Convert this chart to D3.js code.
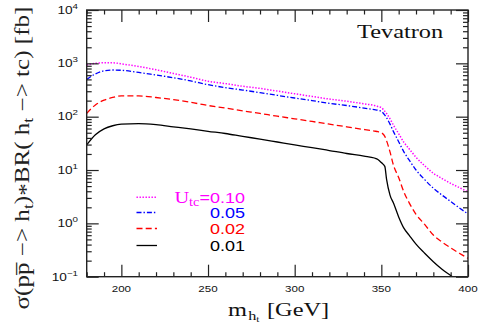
<!DOCTYPE html>
<html><head><meta charset="utf-8">
<script src="https://cdn.jsdelivr.net/npm/d3@7"></script>
<style>body{margin:0;background:#fff}svg{display:block}</style>
</head><body>
<svg id="c" width="480" height="327"></svg>
<script>
// ---- data ----
const massGeV = [180,185,190,195,200,210,220,230,240,250,260,270,280,290,300,310,320,330,340,346,348,350,352,353,355,357,360,363,366,370,375,380,385,390,395,400];
const sigmaU010 = [933,1000,1023,1023,977,871,759,646,550,462,417,372,339,302,269,240,214,195,174,162,155,148,126,115,91.2,69.2,47.9,33.1,25.1,17.4,12.0,8.71,6.92,5.62,4.68,3.89];
const sigmaU005 = [501,631,724,750,741,676,603,537,468,398,351,316,282,251,224,200,178,162,145,135,132,126,107,95.5,72.4,52.5,33.9,21.9,15.5,10.0,6.61,4.57,3.39,2.57,1.95,1.50];
const sigmaU002 = [115,166,204,229,245,245,229,209,186,162,145,129,115,102,91.2,81.3,72.4,64.6,57.5,53.7,52.5,50.1,42.7,35.5,21.9,12.3,7.24,3.89,2.45,1.48,0.955,0.603,0.447,0.347,0.275,0.221];
const sigmaU001 = [29.5,45.7,58.9,67.6,72.4,74.1,70.8,64.6,58.9,53.1,48.4,42.7,38.0,33.5,29.5,26.3,23.2,20.4,18.2,16.8,15.8,13.8,11.7,6.76,3.39,2.40,1.32,0.813,0.603,0.407,0.275,0.191,0.138,0.105,0.0794,0.0617];
const couplings = ["0.10","0.05","0.02","0.01"];
const xTickValues = [200,250,300,350,400];
const yDecades = [-1,0,1,2,3,4];

const seriesValues = [sigmaU010, sigmaU005, sigmaU002, sigmaU001];
const colors = ["#ff00ff","#0000ff","#ff0000","#000000"];
const dashes = ["1.4,1.6","5,2,1.4,2","6,3.2",null];

const svg = d3.select("#c");
const L=86.7, R=468, T=10, B=276.7;
const x = d3.scaleLinear().domain([180,400]).range([L,R]);
const y = d3.scaleLog().domain([0.1,1e4]).range([B,T]);

const SANS = "'Liberation Sans', Arial, sans-serif";
const SERIF = "'Liberation Serif', 'Times New Roman', serif";

svg.append("clipPath").attr("id","clip").append("rect")
  .attr("x",L).attr("y",T).attr("width",R-L).attr("height",B-T);

const line = d3.line().x(d=>x(d[0])).y(d=>y(d[1])).curve(d3.curveMonotoneX);
seriesValues.forEach((vals,i)=>{
  svg.append("path")
    .attr("clip-path","url(#clip)")
    .attr("d", line(massGeV.map((m,j)=>[m,vals[j]])))
    .attr("fill","none").attr("stroke",colors[i]).attr("stroke-width",i===0?1.5:1.3)
    .attr("stroke-dasharray",dashes[i]);
});

const axColor="#222";
const xMinor = d3.range(180,401,10).filter(v=>v%50!==0);
const yMinor = [];
for (let e=-1;e<4;e++) for (let k=2;k<10;k++) yMinor.push(k*Math.pow(10,e));
const yMajor = yDecades.map(e=>Math.pow(10,e));

function styleAxis(g){ g.select(".domain").remove(); g.selectAll("line").attr("stroke",axColor).attr("stroke-width",1.2); g.selectAll("text").remove(); }
svg.append("g").attr("transform",`translate(0,${B})`).call(d3.axisBottom(x).tickValues(xTickValues).tickSize(-12)).call(styleAxis);
svg.append("g").attr("transform",`translate(0,${B})`).call(d3.axisBottom(x).tickValues(xMinor).tickSize(-4.5)).call(styleAxis);
svg.append("g").attr("transform",`translate(0,${T})`).call(d3.axisTop(x).tickValues(xTickValues).tickSize(-12)).call(styleAxis);
svg.append("g").attr("transform",`translate(0,${T})`).call(d3.axisTop(x).tickValues(xMinor).tickSize(-4.5)).call(styleAxis);
svg.append("g").attr("transform",`translate(${L},0)`).call(d3.axisLeft(y).tickValues(yMajor).tickSize(-12)).call(styleAxis);
svg.append("g").attr("transform",`translate(${L},0)`).call(d3.axisLeft(y).tickValues(yMinor).tickSize(-5)).call(styleAxis);
svg.append("g").attr("transform",`translate(${R},0)`).call(d3.axisRight(y).tickValues(yMajor).tickSize(-12)).call(styleAxis);
svg.append("g").attr("transform",`translate(${R},0)`).call(d3.axisRight(y).tickValues(yMinor).tickSize(-5)).call(styleAxis);

svg.append("rect").attr("x",L).attr("y",T).attr("width",R-L).attr("height",B-T)
  .attr("fill","none").attr("stroke",axColor).attr("stroke-width",1.4);

xTickValues.forEach(v=>{
  svg.append("g").attr("transform",`translate(${x(v)},291.5) scale(1.22,1)`)
    .append("text").attr("text-anchor","middle").attr("font-family",SANS)
    .attr("font-size",9.5).attr("fill","#111").text(v);
});
yDecades.forEach(e=>{
  const t = svg.append("g").attr("transform",`translate(78,${y(Math.pow(10,e))+3.8}) scale(1.3,1)`)
    .append("text").attr("text-anchor","end").attr("font-family",SANS).attr("font-size",10.5).attr("fill","#111");
  t.append("tspan").text("10");
  t.append("tspan").attr("font-size",7.5).attr("dy",-5).text(e<0?"\u2212"+(-e):String(e));
});

svg.append("g").attr("transform","translate(357,38.3) scale(1.25,1)")
  .append("text").attr("font-family",SERIF).attr("font-size",19.5).attr("fill","#111").text("Tevatron");

{
  const t = svg.append("g").attr("transform","translate(228,315.5) scale(1.25,1)")
    .append("text").attr("font-family",SERIF).attr("font-size",19.5).attr("fill","#111");
  t.append("tspan").text("m");
  t.append("tspan").attr("font-size",13).attr("dy",4).attr("dx",1).text("h");
  t.append("tspan").attr("font-size",9).attr("dy",2.5).text("t");
  t.append("tspan").attr("dy",-6.5).attr("dx",6).text("[GeV]");
}

{
  const g = svg.append("g");
  const t = g.append("text").attr("font-family",SERIF).attr("font-size",17).attr("fill","#222").attr("text-anchor","middle");
  t.append("tspan").text("\u03C3(p");
  t.append("tspan").text("p\u0305");
  t.append("tspan").text(" \u2212> h");
  t.append("tspan").attr("font-size",12).attr("dy",3).text("t");
  t.append("tspan").attr("dy",-3).text(")");
  t.append("tspan").attr("dy",3).text("*");
  t.append("tspan").attr("dy",-3).text("BR( h");
  t.append("tspan").attr("font-size",12).attr("dy",3).text("t");
  t.append("tspan").attr("dy",-3).text(" \u2212> tc) [fb]");
  const len = t.node().getComputedTextLength();
  const sx = 303/len;
  g.attr("transform",`translate(29,158) rotate(-90) scale(${sx},1.2)`);
}

const legendY = [197.3,212.5,228.5,245.5];
couplings.forEach((c,i)=>{
  svg.append("line").attr("x1",136.5).attr("x2",157).attr("y1",legendY[i]).attr("y2",legendY[i])
    .attr("stroke",colors[i]).attr("stroke-width",i===0?1.5:1.3).attr("stroke-dasharray",dashes[i]);
  const t = svg.append("g").attr("transform",`translate(245,${legendY[i]+5.5}) scale(1.2,1)`)
    .append("text").attr("text-anchor","end").attr("font-size",15).attr("fill",colors[i]).attr("font-family",SANS);
  if(i===0){
    t.append("tspan").attr("font-family",SERIF).attr("font-size",17).text("U");
    t.append("tspan").attr("font-family",SERIF).attr("font-size",12).attr("dy",3.5).text("tc");
    t.append("tspan").attr("dy",-3.5).text("="+c);
  } else t.text(c);
});
</script>
</body></html>
